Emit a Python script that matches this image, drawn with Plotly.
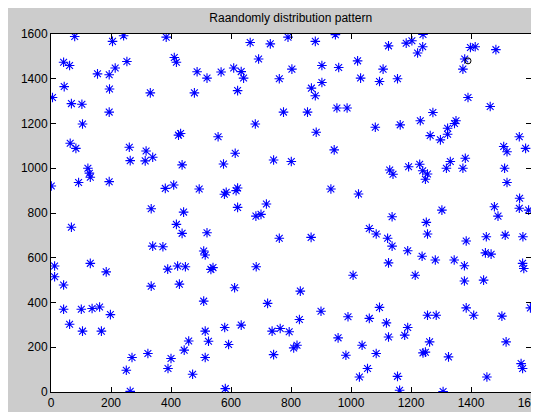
import plotly.graph_objects as go

# Scatter points (x, y)
pts_row1 = [(79,1589),(205,1567),(242,1592),(384,1586),(42,1474),(62,1459),(214,1448),(253,1477),
            (411,1495),(418,1474),(487,1431),(520,1403),(155,1422),(194,1418),(44,1365),(195,1354),
            (331,1337),(478,1337),(5,1316),(68,1289),(103,1286),(194,1251),
            (664,1562),(731,1556),(790,1586),(881,1567),(948,1597),(692,1488),(567,1430),(609,1448),
            (634,1432),(642,1403),(803,1443),(903,1459),(959,1450),(1022,1480),(1032,1403),(761,1400),
            (903,1383),(868,1358),(622,1347),(881,1324),(775,1251),(855,1251),(953,1269),(987,1269),
            (1125,1547),(1184,1559),(1203,1570),(1240,1598),(1239,1543),(1222,1515),(1398,1540),
            (1414,1543),(1483,1530),(1379,1488),(1373,1443),(1107,1443),(1095,1388),(1155,1400),
            (1390,1316),(1464,1276),(1273,1249),(1350,1212),(1345,1200),(1231,1212)]
pts_row2 = [(105,1198),(425,1148),(432,1155),(64,1112),(83,1089),(261,1094),(317,1077),(339,1049),
            (264,1034),(314,1033),(437,1015),(123,1000),(128,978),(131,960),(92,936),(194,940),
            (1,921),(381,910),(409,925),(494,907),(334,819),(442,804),
            (681,1198),(557,1141),(884,1161),(944,1082),(614,1067),(575,1019),(742,1037),(801,1030),
            (578,884),(584,893),(617,900),(622,912),(933,907),(1025,885),(622,825),(718,840),
            (700,794),(683,786),
            (1081,1183),(1164,1194),(1322,1179),(1264,1146),(1298,1127),(1322,1152),(1561,1141),
            (1509,1097),(1520,1074),(1582,1089),(1331,1030),(1381,1045),(1129,992),(1140,973),
            (1192,1007),(1229,1018),(1239,989),(1255,974),(1248,951),(1318,1000),(1373,1000),
            (1512,1000),(1520,936),(1562,866),(1561,821),(1592,813),(1478,828),(1490,786),
            (1303,813),(1137,783)]
pts_row3 = [(68,736),(418,749),(437,709),(520,712),(339,652),(373,649),(509,630),(514,612),
            (12,563),(12,515),(131,575),(184,537),(389,549),(422,563),(448,560),(42,478),
            (334,473),(428,482),(509,406),
            (761,687),(867,691),(1061,731),(533,548),(540,556),(684,560),(1007,522),(612,466),
            (831,451),(722,396),
            (1251,758),(1084,706),(1122,687),(1137,652),(1255,706),(1384,675),(1451,694),
            (1514,701),(1573,694),(1189,631),(1237,607),(1281,590),(1344,590),(1378,564),
            (1448,622),(1467,616),(1125,577),(1214,522),(1572,575),(1576,552),(1378,496),
            (1442,500),(1095,378),(1384,376),(1598,376)]
pts_row4 = [(42,370),(101,370),(137,373),(162,380),(62,303),(105,272),(168,272),(198,346),
            (251,97),(270,154),(264,3),(323,172),(390,105),(400,150),(444,187),(459,228),
            (472,79),(514,272),(514,154),
            (900,361),(525,227),(579,288),(634,299),(592,212),(737,272),(764,284),(794,269),
            (828,324),(809,197),(820,209),(742,167),(990,336),(1061,329),(957,242),(1037,209),
            (983,164),(1055,105),(1028,67),(581,15),
            (1118,309),(1125,246),(1189,288),(1179,254),(1255,343),(1284,343),(1409,343),
            (1503,339),(1262,224),(1240,175),(1248,178),(1325,157),(1517,224),(1084,172),
            (1155,70),(1162,8),(1307,2),(1453,67),(1567,127),(1572,105)]

special_x = [1390]
special_y = [1480]

title_text = "Raandomly distribution pattern"
tick_vals = [0, 200, 400, 600, 800, 1000, 1200, 1400, 1600]

all_pts = pts_row1 + pts_row2 + pts_row3 + pts_row4
xs = [p[0] for p in all_pts]
ys = [p[1] for p in all_pts]

fig = go.Figure()
fig.add_trace(go.Scatter(
    x=xs, y=ys, mode="markers",
    marker=dict(symbol="asterisk-open", size=8, color="#0000ff",
                line=dict(color="#0000ff", width=1.1)),
    showlegend=False, hoverinfo="skip"))
fig.add_trace(go.Scatter(
    x=special_x, y=special_y, mode="markers",
    marker=dict(symbol="circle-open", size=6, color="#000000",
                line=dict(color="#000000", width=1)),
    showlegend=False, hoverinfo="skip"))

axis_common = dict(
    range=[0, 1600], tickvals=tick_vals, ticks="inside", ticklen=5,
    tickcolor="#000000", showline=True, linecolor="#000000", linewidth=1,
    mirror="ticks", showgrid=False, zeroline=False, automargin=False,
    tickfont=dict(family="Liberation Sans, Arial, sans-serif", size=12, color="#000000"),
)
fig.update_xaxes(**axis_common)
fig.update_yaxes(**axis_common)

fig.update_layout(
    width=539, height=412,
    margin=dict(l=43, r=16, t=26, b=28),
    paper_bgcolor="#cccccc", plot_bgcolor="#ffffff",
    title=dict(text=title_text, x=282.7/539, xanchor="center",
               y=1 - 10/412, yanchor="middle", yref="container",
               font=dict(family="Liberation Sans, Arial, sans-serif", size=12, color="#000000")),
)
fig.write_html("out.html")
